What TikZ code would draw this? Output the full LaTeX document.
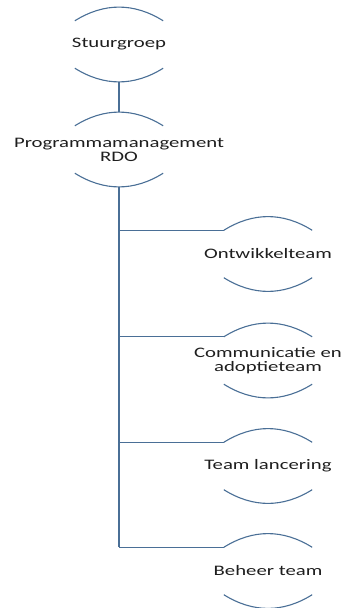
\documentclass[tikz,border=0pt]{standalone}
\usepackage{fontspec}
\newfontfamily\diafont[FakeStretch=1.43]{Carlito}
\definecolor{linec}{HTML}{4A6F96}
\definecolor{textc}{HTML}{1E1E1E}
\begin{document}
\begin{tikzpicture}[x=1pt,y=-1pt,
  frame/.style={draw=none,minimum width=88pt,minimum height=47pt,inner sep=0pt},
  lbl/.style={font=\diafont\fontsize{14.5}{14}\selectfont,text=textc,align=center,inner sep=0pt},
  arcline/.style={draw=linec,line width=1.1pt},
  trunk/.style={draw=linec,line width=1.8pt},
  branch/.style={draw=linec,line width=1.2pt}]
\useasboundingbox (0,0) rectangle (347,608);

\node[frame,label={[lbl]center:Stuurgroep}] (stu) at (119,44.5) {};
\node[frame,label={[lbl]center:Programmamanagement\\RDO}] (pm) at (119,149.5) {};
\node[frame,label={[lbl]center:Ontwikkelteam}] (ont) at (268,254) {};
\node[frame,label={[lbl]center:Communicatie en\\adoptieteam}] (com) at (268,360.5) {};
\node[frame,label={[lbl]center:Team lancering}] (tl) at (268,466) {};
\node[frame,label={[lbl]center:Beheer team}] (beh) at (268,571) {};

\foreach \n in {stu,pm,ont,com,tl,beh}{
  \draw[arcline] (\n.north west) to[bend left=32] coordinate[pos=0.5] (\n-top) (\n.north east);
  \draw[arcline] (\n.south west) to[bend right=32] coordinate[pos=0.5] (\n-bot) (\n.south east);
}

\draw[trunk] (stu-bot) -- (pm-top);
\draw[trunk] (pm-bot) -- (pm-bot |- beh.north west);
\foreach \n in {ont,com,tl,beh}{
  \draw[branch] (pm-bot |- \n.north west) -- (\n.north west);
}
\end{tikzpicture}
\end{document}
